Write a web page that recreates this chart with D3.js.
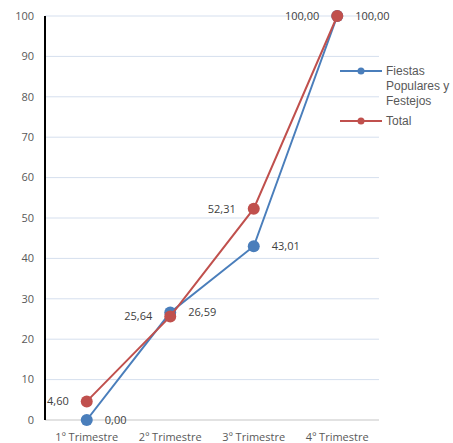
<!DOCTYPE html>
<html><head><meta charset="utf-8">
<script src="https://cdn.jsdelivr.net/npm/d3@7"></script>
<style>body{margin:0;background:#fff}svg{display:block}</style>
</head><body><svg id="c" width="453" height="443"></svg>
<script>
const categories = ["1º Trimestre","2º Trimestre","3º Trimestre","4º Trimestre"];
const fiestas = [0.00, 26.59, 43.01, 100.00];
const total = [4.60, 25.64, 52.31, 100.00];
const yTicks = [0,10,20,30,40,50,60,70,80,90,100];
const seriesNames = ["Fiestas Populares y Festejos","Total"];

const svg = d3.select("#c");
const x = d3.scaleBand().domain(categories).range([45,379]);
const y = d3.scaleLinear().domain([0,100]).range([420,16]);
const font = "'Open Sans', Lato, sans-serif";

// gridlines
svg.append("g").selectAll("line").data(yTicks.filter(d=>d>0)).join("line")
  .attr("x1",45).attr("x2",379).attr("y1",d=>y(d)).attr("y2",d=>y(d))
  .attr("stroke","#d5dfee").attr("stroke-width",1);
svg.append("line").attr("x1",45).attr("x2",379).attr("y1",y(0)).attr("y2",y(0))
  .attr("stroke","#d9d9d9").attr("stroke-width",1.5);
svg.append("line").attr("x1",45).attr("x2",45).attr("y1",y(100)).attr("y2",y(0))
  .attr("stroke","#000").attr("stroke-width",2);

// y tick labels
svg.append("g").selectAll("text").data(yTicks).join("text")
  .attr("x",34).attr("y",d=>y(d)).attr("dy","0.35em").attr("text-anchor","end")
  .attr("font-family",font).attr("font-size",11).attr("fill","#595959").text(d=>d);
// x labels
svg.append("g").selectAll("text").data(categories).join("text")
  .attr("x",d=>x(d)+x.bandwidth()/2).attr("y",437).attr("dy","0.35em").attr("text-anchor","middle")
  .attr("font-family",font).attr("font-size",11).attr("fill","#595959").text(d=>d);

const cx = d=>x(d)+x.bandwidth()/2;
const fmt = v=>v.toFixed(2).replace(".",",");
const series = [
  {name:seriesNames[0], vals:fiestas, color:"#4a7ebb", side:[1,1,1,1]},
  {name:seriesNames[1], vals:total, color:"#c0504d", side:[-1,-1,-1,-1]}
];
const line = d3.line().x(d=>cx(d.c)).y(d=>y(d.v));
series.forEach(s=>{
  const pts = categories.map((c,i)=>({c,v:s.vals[i],side:s.side[i]}));
  const g = svg.append("g");
  g.append("path").datum(pts).attr("d",line).attr("fill","none").attr("stroke",s.color).attr("stroke-width",2);
  g.selectAll("circle").data(pts).join("circle").attr("cx",d=>cx(d.c)).attr("cy",d=>y(d.v)).attr("r",6).attr("fill",s.color);
  g.selectAll("text").data(pts).join("text")
    .attr("x",d=>cx(d.c)+d.side*18).attr("y",d=>y(d.v)).attr("dy","0.35em")
    .attr("text-anchor",d=>d.side>0?"start":"end")
    .attr("font-family",font).attr("font-size",11).attr("fill","#404040").text(d=>fmt(d.v));
});

// legend
const leg = [{lines:["Fiestas","Populares y","Festejos"],color:series[0].color,y:71},{lines:["Total"],color:series[1].color,y:121}];
leg.forEach(l=>{
  svg.append("line").attr("x1",340).attr("x2",382).attr("y1",l.y).attr("y2",l.y).attr("stroke",l.color).attr("stroke-width",2);
  svg.append("circle").attr("cx",361).attr("cy",l.y).attr("r",3.5).attr("fill",l.color);
  l.lines.forEach((t,i)=>svg.append("text").attr("x",386).attr("y",l.y+i*15).attr("dy","0.35em")
    .attr("font-family","'Liberation Sans', Arial, sans-serif").attr("font-size",12).attr("fill","#595959").text(t));
});
</script></body></html>
